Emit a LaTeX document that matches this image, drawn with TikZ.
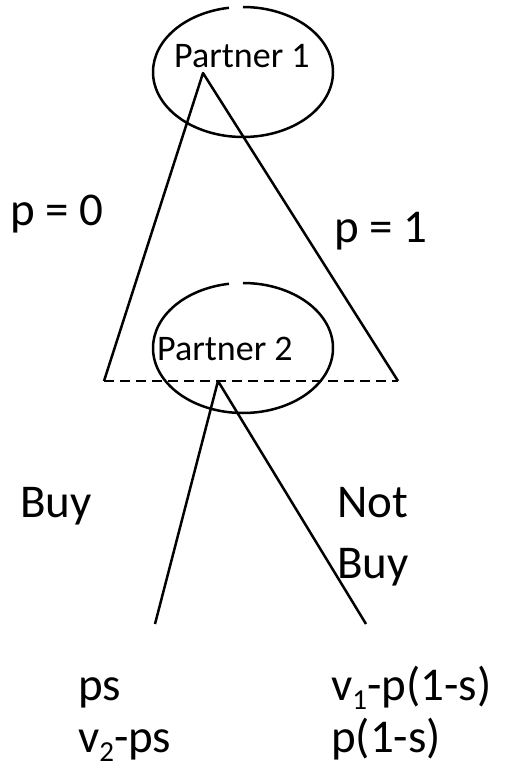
\documentclass[tikz,border=0pt]{standalone}
\usepackage{fontspec}
\setmainfont{Carlito}
\usepackage{tikz}

\newcommand{\subnum}[1]{\raisebox{-0.2em}{\fontsize{29}{29}\selectfont #1}}

\tikzset{
  lbl/.style={anchor=base west, inner sep=0pt, align=left, font=\fontsize{47}{52}\selectfont},
  who/.style={anchor=base west, inner sep=0pt, font=\fontsize{36}{43}\selectfont},
  edge/.style={line width=2.5pt}
}

\begin{document}
\begin{tikzpicture}[x=1pt, y=-1pt, line join=round]
\useasboundingbox (0,0) rectangle (504,770);
% decision nodes
\coordinate (e1) at (243,72);
\coordinate (e2) at (243,348);
\draw[edge] (e1) ++(270:90 and 65) arc[start angle=270, end angle=621, x radius=90, y radius=65];
\draw[edge] (e2) ++(270:90 and 65) arc[start angle=270, end angle=621, x radius=90, y radius=65];
\node[who] (pa1) at (174,68) {Partner 1};
\node[who] (pa2) at (157,360) {Partner 2};
% branch ends
\coordinate (top) at (203,73);
\coordinate (bl) at (104,381);
\coordinate (br) at (398,381);
\coordinate (mid) at (218,381);
\coordinate (ll) at (155,624);
\coordinate (lr) at (366,624);
\draw[edge] (bl) -- (top) -- (br);
\draw[edge, dash pattern=on 10pt off 6pt] (bl) -- (br);
\draw[edge] (ll) -- (mid) -- (lr);
% labels (base = last line)
\node[lbl] (p0) at (10,225) {p = 0};
\node[lbl] (p1) at (334,242) {p = 1};
\node[lbl] (buy) at (20,517) {Buy};
\node[lbl, font=\fontsize{47}{61}\selectfont] (nbuy) at (337,578) {Not\\Buy};
\node[lbl] (upay) at (78,752) {ps\\v\subnum{2}-ps};
\node[lbl] (npay) at (331,752) {v\subnum{1}-p(1-s)\\p(1-s)};
\end{tikzpicture}
\end{document}
